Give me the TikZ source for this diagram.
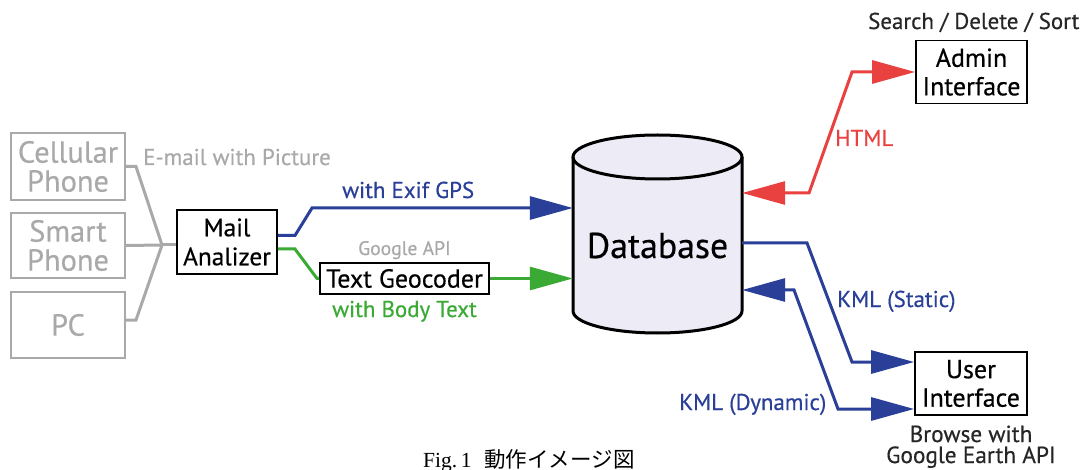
\documentclass[tikz,border=0pt]{standalone}
\usepackage{fontspec}
\setmainfont{PT Sans}[FakeBold=0.5]
\newfontfamily\capfont{Liberation Serif}
\newfontfamily\jpfont{Noto Sans CJK JP}
\usetikzlibrary{arrows.meta,calc}
\definecolor{lgray}{HTML}{A9A9A9}
\definecolor{dblue}{HTML}{2A3F98}
\definecolor{dgreen}{HTML}{3AAA35}
\definecolor{dred}{HTML}{E8413F}
\definecolor{dbfill}{HTML}{EDEBF5}
\begin{document}
\begin{tikzpicture}[x=1pt,y=-1pt,
  graybox/.style={draw=lgray,line width=2pt,text=lgray,inner sep=0pt,align=center,
    minimum width=114pt,font=\fontsize{30.4}{29}\selectfont},
  blackbox/.style={draw=black,line width=1.8pt,inner sep=0pt,align=center,
    font=\fontsize{26}{28.5}\selectfont},
  gl/.style={draw=lgray,line width=3pt},
  conn/.style={line width=3pt,line join=miter},
  tri/.tip={Triangle[length=43pt,width=23pt]},
  lbl/.style={anchor=base west,inner sep=0pt,font=\fontsize{22.9}{24}\selectfont}
]
\useasboundingbox (0,0) rectangle (1084,470);

% source boxes
\node[graybox,minimum height=67pt] (cell) at (68,166.5) {Cellular\\Phone};
\node[graybox,minimum height=65pt] (smart) at (68,245.5) {Smart\\Phone};
\node[graybox,minimum height=66pt] (pc) at (68,325) {PC};
\node[blackbox,minimum width=100pt,minimum height=64pt,font=\fontsize{25.3}{29}\selectfont] (mail) at (227,242) {Mail\\Analizer};
\node[blackbox,minimum width=169pt,minimum height=31pt] (geo) at (404.5,278.5) {Text Geocoder};
\node[blackbox,minimum width=111pt,minimum height=63pt] (admin) at (971.5,72) {Admin\\Interface};
\node[blackbox,minimum width=112pt,minimum height=63pt] (user) at (971,383.5) {User\\Interface};

% database cylinder
\node[minimum width=169pt,minimum height=198pt,inner sep=0pt] (db) at (657.5,234) {};
\fill[dbfill] (573,157) -- (573,311) arc[start angle=180,end angle=0,x radius=84.5,y radius=22] -- (742,157) -- cycle;
\fill[dbfill] (657.5,157) ellipse [x radius=84.5,y radius=22];
\draw[line width=3pt] (573,157) -- (573,311) arc[start angle=180,end angle=0,x radius=84.5,y radius=22] -- (742,157);
\draw[line width=3pt] (657.5,157) ellipse [x radius=84.5,y radius=22];
\node[anchor=base,inner sep=0pt,font=\fontsize{35.8}{36}\selectfont] (dbtext) at (657.5,258) {Database};

% gray connectors
\coordinate (j) at (162,245);
\draw[gl] (cell.east) -- ++(10,0) -- (j);
\draw[gl] (smart.east) -- (j);
\draw[gl] ($(pc.east)+(0,-5)$) -- ++(10,0) -- (j);
\draw[gl] (j) -- (mail.west |- j);

% blue upper and green
\draw[conn,dblue,-tri] ($(mail.east)+(0,-6.5)$) -- (295,235.5) -- (312,208) -- ($(db.west)+(0,-26)$);
\draw[conn,dgreen] ($(mail.east)+(0,7)$) -- (295,249) -- (317,278.5) -- (geo.west);
\draw[conn,dgreen,-tri] (geo.east) -- (db.west |- geo.east);

% red
\draw[conn,dred,tri-tri] ($(db.east)+(0,-41)$) -- (809,193) -- (852,72) -- (admin.west);

% blue lower
\draw[conn,dblue,-tri] ($(db.east)+(0,9)$) -- (807,243) -- (852,362) -- ($(user.west)+(0,-21.5)$);
\draw[conn,dblue,tri-tri] ($(db.east)+(0,56)$) -- (794,290) -- (838,409) -- ($(user.west)+(0,25.5)$);

% labels
\node[lbl,text=lgray] (lmail) at (143,165) {E-mail with Picture};
\node[lbl,text=dblue] (lexif) at (342,198) {with Exif GPS};
\node[lbl,text=lgray,font=\fontsize{19.6}{20}\selectfont] (lgapi) at (358,255) {Google API};
\node[lbl,text=dgreen] (lbody) at (332,317) {with Body Text};
\node[lbl,text=dred] (lhtml) at (835,146) {HTML};
\node[lbl,text=black!85] (lsearch) at (868,29) {Search / Delete / Sort};
\node[lbl,text=dblue] (lstatic) at (837,307) {KML (Static)};
\node[lbl,text=dblue] (ldyn) at (679,410) {KML (Dynamic)};
\node[anchor=base,inner sep=0pt,font=\fontsize{23.3}{24}\selectfont,text=black!85] (lbrowse) at (971,442) {Browse with};
\node[anchor=base,inner sep=0pt,font=\fontsize{23.3}{24}\selectfont,text=black!85] (learth) at (971,463) {Google Earth API};
\node[anchor=base west,inner sep=0pt,font=\fontsize{21.5}{22}\selectfont] (cap) at (423,467) {\capfont Fig.\,1\hspace{0.6em}\jpfont 動作イメージ図};
\end{tikzpicture}
\end{document}
